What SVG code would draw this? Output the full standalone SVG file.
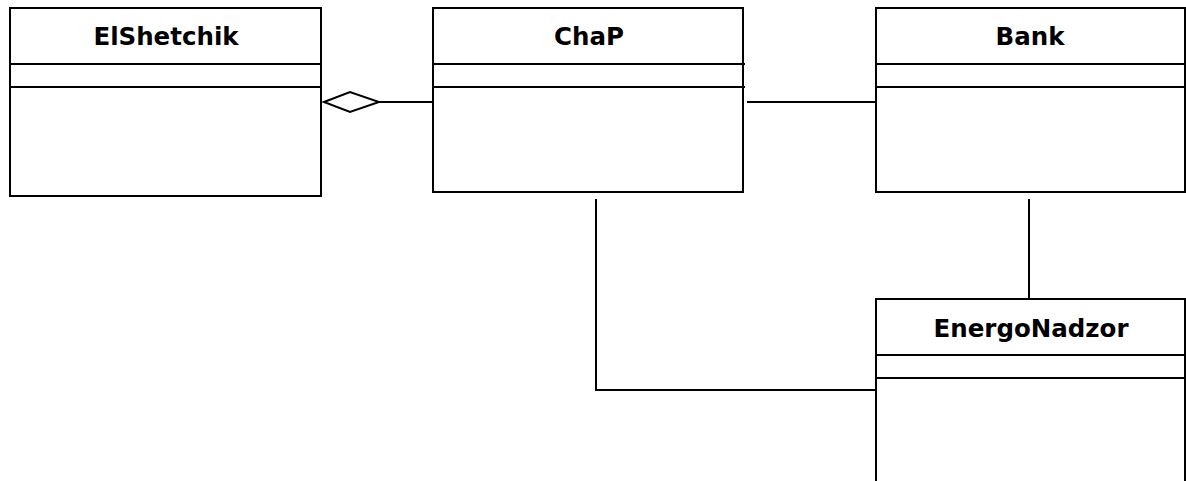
<svg xmlns="http://www.w3.org/2000/svg" width="1186" height="481" viewBox="0 0 1186 481">
  <style>
    .box { fill: #ffffff; stroke: #000000; stroke-width: 2; }
    .sep { stroke: #000000; stroke-width: 2; fill: none; }
    .name { font-family: "DejaVu Sans", Verdana, sans-serif; font-weight: bold; font-size: 24.5px; fill: #000000; text-anchor: middle; }
    .link { stroke: #000000; stroke-width: 2; fill: none; }
    .agg { fill: #ffffff; stroke: #000000; stroke-width: 2; }
  </style>
  <rect width="1186" height="481" fill="#ffffff"/>

  <g id="connectors">
    <!-- aggregation: ChaP part of ElShetchik -->
    <line class="link" x1="379" y1="102" x2="433" y2="102"/>
    <polygon class="agg" points="324,102 350,92 379,102 350,112"/>
    <!-- ChaP to Bank -->
    <line class="link" x1="747" y1="102" x2="876" y2="102"/>
    <!-- Bank to EnergoNadzor -->
    <line class="link" x1="1029" y1="199" x2="1029" y2="299"/>
    <!-- ChaP to EnergoNadzor -->
    <polyline class="link" points="596,199 596,390 876,390"/>
  </g>

  <g id="ElShetchik">
    <rect class="box" x="10" y="8" width="311" height="188"/>
    <line class="sep" x1="10" y1="64" x2="322" y2="64"/>
    <line class="sep" x1="10" y1="87" x2="322" y2="87"/>
    <text class="name" x="166" y="45">ElShetchik</text>
  </g>

  <g id="ChaP">
    <rect class="box" x="433" y="8" width="310" height="184"/>
    <line class="sep" x1="433" y1="64" x2="745" y2="64"/>
    <line class="sep" x1="433" y1="87" x2="745" y2="87"/>
    <text class="name" x="589" y="45">ChaP</text>
  </g>

  <g id="Bank">
    <rect class="box" x="876" y="8" width="309" height="184"/>
    <line class="sep" x1="876" y1="64" x2="1185" y2="64"/>
    <line class="sep" x1="876" y1="87" x2="1185" y2="87"/>
    <text class="name" x="1030" y="45">Bank</text>
  </g>

  <g id="EnergoNadzor">
    <rect class="box" x="876" y="299" width="309" height="200"/>
    <line class="sep" x1="876" y1="355" x2="1185" y2="355"/>
    <line class="sep" x1="876" y1="378" x2="1185" y2="378"/>
    <text class="name" x="1031" y="337">EnergoNadzor</text>
  </g>
</svg>
